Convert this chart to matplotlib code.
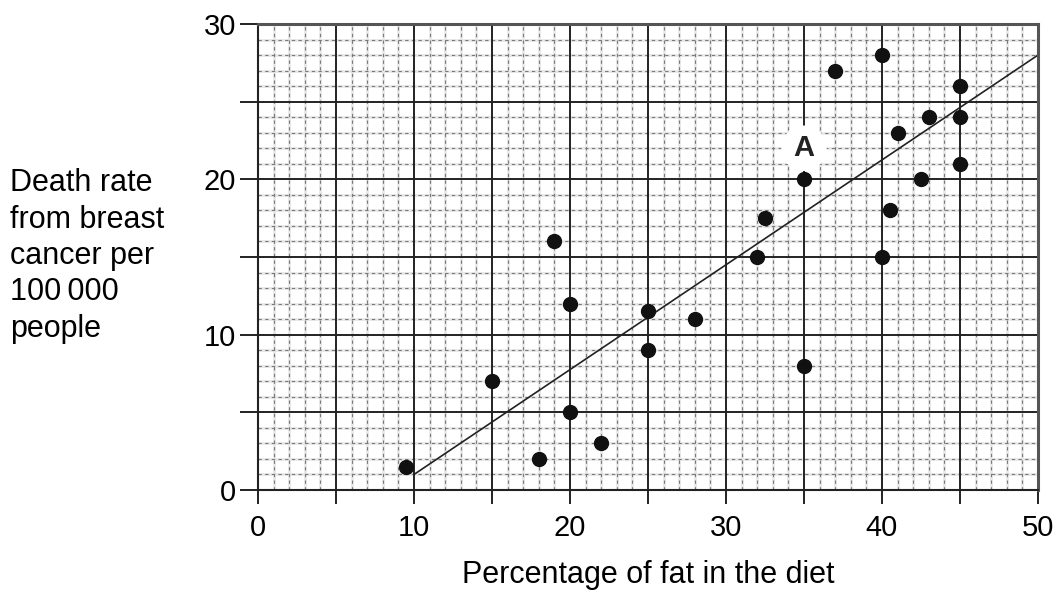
import matplotlib
matplotlib.use('Agg')
import matplotlib.pyplot as plt
import numpy as np

plt.rcParams['font.family'] = ['Liberation Sans', 'DejaVu Sans']

# data
fat_pct = [9.5, 15, 18, 19, 20, 20, 22, 25, 25, 28, 32, 32.5, 35, 35,
           37, 40, 41, 40, 40.5, 42.5, 43, 45, 45, 45]
death_rate = [1.5, 7, 2, 16, 12, 5, 3, 11.5, 9, 11, 15, 17.5, 20, 8,
              27, 28, 23, 15, 18, 20, 24, 26, 24, 21]
fit_x = [10, 50]
fit_y = [1, 28]
label_a = (35, 22)

fig = plt.figure(figsize=(10.59, 5.93), dpi=100)
ax = fig.add_axes([258/1059, 1 - 490/593, (1038 - 258)/1059, (490 - 24)/593])
ax.set_xlim(0, 50)
ax.set_ylim(0, 30)

# graph-paper grid
for v in np.arange(1, 50):
    if v % 5:
        ax.axvline(v, color='#e8e8e8', lw=2.0, zorder=0)
        ax.axvline(v, color='#7a7a7a', lw=0.8, dashes=(3, 3), zorder=0.5)
for v in np.arange(1, 30):
    if v % 5:
        ax.axhline(v, color='#e8e8e8', lw=2.0, zorder=0)
        ax.axhline(v, color='#7a7a7a', lw=0.8, dashes=(3, 3), zorder=0.5)
for v in range(5, 50, 5):
    ax.axvline(v, color='#222222', lw=1.4, zorder=1)
for v in range(5, 30, 5):
    ax.axhline(v, color='#222222', lw=1.4, zorder=1)

ax.plot(fit_x, fit_y, color='#222222', lw=1.2, zorder=2)
ax.scatter(fat_pct, death_rate, s=100, color='#111111', zorder=3)

ax.text(label_a[0], label_a[1], 'A', fontsize=21, fontweight='bold', ha='center', va='center',
        color='#222222', zorder=4,
        bbox=dict(boxstyle='circle,pad=0.3', fc='white', ec='none'))

ax.set_xticks(range(0, 51, 5))
ax.set_xticklabels([str(v) if v % 10 == 0 else '' for v in range(0, 51, 5)])
ax.set_yticks(range(0, 31, 5))
ax.set_yticklabels([str(v) if v % 10 == 0 else '' for v in range(0, 31, 5)])
ax.tick_params(axis='x', length=10, width=1.4, color='#222222', labelsize=21, pad=7)
ax.tick_params(axis='y', length=13, width=1.4, color='#222222', labelsize=21, pad=3)

for s in ['left', 'bottom']:
    ax.spines[s].set_linewidth(1.5)
    ax.spines[s].set_color('#222222')
for s in ['top', 'right']:
    ax.spines[s].set_linewidth(2.2)
    ax.spines[s].set_color('#555555')

ax.set_xlabel('Percentage of fat in the diet', fontsize=22, labelpad=13)
fig.text(10/1059, 1 - 256/593, 'Death rate\nfrom breast\ncancer per\n100\u2009000\npeople',
         fontsize=22, ha='left', va='center', linespacing=1.28)

fig.savefig('out.png', dpi=100)
